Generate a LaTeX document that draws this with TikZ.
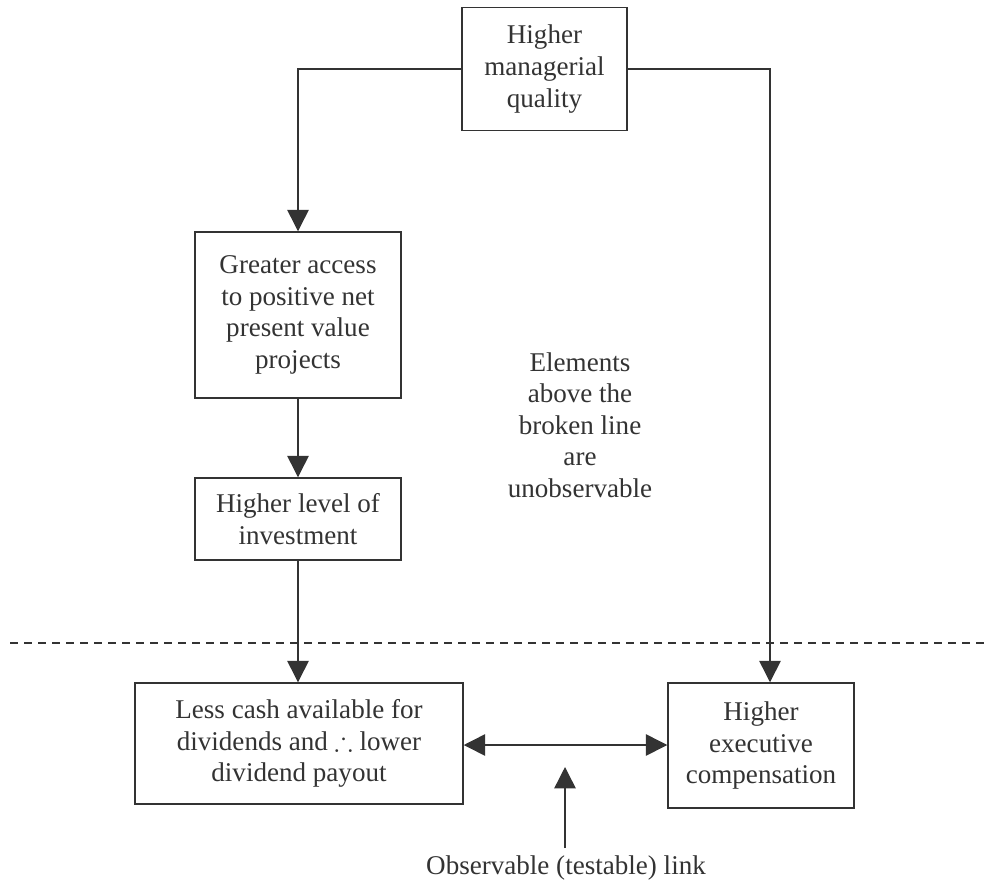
\documentclass[tikz,border=0pt]{standalone}
\usepackage{amssymb}
\usepackage{fontspec}
\setmainfont{Liberation Serif}
\usetikzlibrary{arrows.meta}
\definecolor{ink}{HTML}{333333}
\tikzset{
  box/.style={draw=ink, line width=1.1pt, rectangle, align=center, inner sep=0pt, text=ink, font=\fontsize{20.3}{23.7}\selectfont},
  lbl/.style={align=center, text=ink, font=\fontsize{20.3}{23.7}\selectfont},
  conn/.style={draw=ink, line width=1.1pt},
  tip/.style={-{Triangle[length=16pt,width=16pt]}},
}
\begin{document}
\begin{tikzpicture}[x=0.75pt,y=-0.75pt]
\useasboundingbox (0,0) rectangle (987,888);
\node[box, minimum width=165*0.75pt, minimum height=123*0.75pt] (top) at (544.5,69) {Higher\\managerial\\quality};
\node[box, minimum width=206*0.75pt, minimum height=166*0.75pt] (greater) at (298,315) {Greater access\\to positive net\\present value\\projects};
\node[box, minimum width=206*0.75pt, minimum height=82*0.75pt] (level) at (298,519) {Higher level of\\investment};
\node[box, minimum width=328*0.75pt, minimum height=121*0.75pt] (cash) at (299,743.5) {Less cash available for\\dividends and $\therefore$ lower\\dividend payout};
\node[box, minimum width=186*0.75pt, minimum height=125*0.75pt] (exec) at (761,745.5) {Higher\\executive\\compensation};
\node[lbl] (elem) at (580,425) {Elements\\above the\\broken line\\are\\unobservable};
\node[lbl] (obs) at (566,868) {Observable (testable) link};
\coordinate (dl) at (10,643);
\coordinate (dr) at (987,643);
\coordinate (linkpt) at (565,767);
\coordinate (linkbot) at (565,848);
\coordinate (arrowrow) at (0,745);
\coordinate (rcol) at (770,0);
\draw[conn, dashed, dash pattern=on 6pt off 4.5pt, line width=0.8pt] (dl) -- (dr);
\draw[conn, tip] (top.west) -| (greater.north);
\draw[conn, tip] (top.east) -| (rcol |- exec.north);
\draw[conn, tip] (greater.south) -- (level.north);
\draw[conn, tip] (level.south) -- (level.south |- cash.north);
\draw[conn, {Triangle[length=16pt,width=16pt]}-{Triangle[length=16pt,width=16pt]}] (cash.east |- arrowrow) -- (exec.west |- arrowrow);
\draw[conn, tip] (linkbot) -- (linkpt);
\end{tikzpicture}
\end{document}
